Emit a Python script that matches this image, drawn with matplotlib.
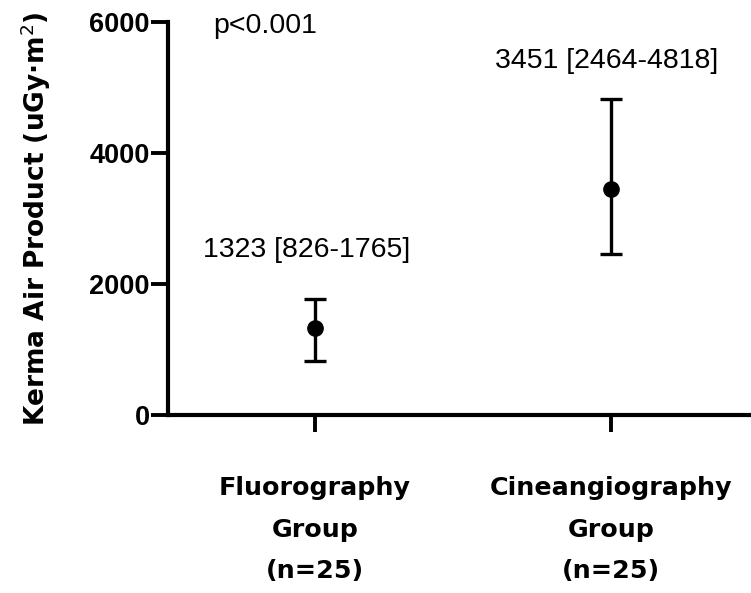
import matplotlib
matplotlib.use("Agg")
import matplotlib.pyplot as plt

categories = ["Fluorography\nGroup\n(n=25)", "Cineangiography\nGroup\n(n=25)"]
medians = [1323, 3451]
lower = [826, 2464]
upper = [1765, 4818]
annotations = ["1323 [826-1765]", "3451 [2464-4818]"]
p_text = "p<0.001"
yticks = [0, 2000, 4000, 6000]

plt.rcParams['font.family'] = ['Liberation Sans', 'DejaVu Sans']
plt.rcParams['mathtext.fontset'] = 'dejavusans'

fig = plt.figure(figsize=(7.51, 5.93), dpi=100)
ax = fig.add_axes([0.2237, 0.3002, 0.7763, 0.6627])

x = list(range(len(categories)))
yerr = [[m - l for m, l in zip(medians, lower)], [u - m for m, u in zip(medians, upper)]]
ax.errorbar(x, medians, yerr=yerr, fmt='o', color='black', markersize=11,
            elinewidth=2.4, capsize=8, capthick=2.4, clip_on=False)

ax.set_xlim(-0.497, 1.473)
ax.set_ylim(0, 6000)
ax.set_yticks(yticks)
ax.set_yticklabels([str(t) for t in yticks], fontsize=19.5, fontweight='bold')
ax.set_xticks(x)
ax.set_xticklabels(categories, fontsize=18.3, fontweight='bold', linespacing=1.92,
                   fontfamily=['DejaVu Sans'])
ax.tick_params(axis='x', length=12, width=2.8, pad=32)
ax.tick_params(axis='y', length=12, width=2.8, pad=1)
ax.set_ylabel("Kerma Air Product (uGy·m$^2$)", fontsize=19, fontweight='bold',
              fontfamily=['DejaVu Sans'], labelpad=26)

for s in ['top', 'right']:
    ax.spines[s].set_visible(False)
for s in ['left', 'bottom']:
    ax.spines[s].set_linewidth(3)

ax.text(-0.345, 5832, p_text, fontsize=20.5, ha='left', va='baseline')
ax.text(-0.029, 2412, annotations[0], fontsize=20.5, ha='center', va='baseline')
ax.text(0.985, 5298, annotations[1], fontsize=20.5, ha='center', va='baseline')

fig.savefig("out.png", dpi=100)
